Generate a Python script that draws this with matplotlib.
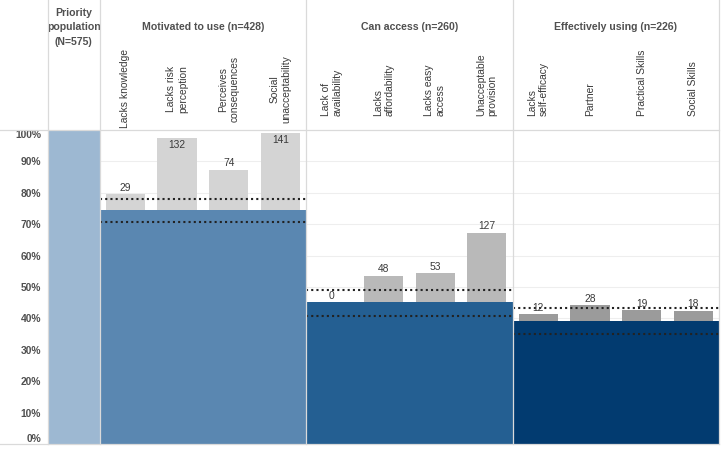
import matplotlib
matplotlib.use("Agg")
import matplotlib.pyplot as plt
from matplotlib.lines import Line2D

plt.rcParams["font.family"] = ["Liberation Sans", "DejaVu Sans"]

# data
total_label = "Priority\npopulation\n(N=575)"
total_n = 575
sections = ["Motivated to use (n=428)", "Can access (n=260)", "Effectively using (n=226)"]
section_n = [428, 260, 226]
barrier_labels = [
    "Lacks knowledge", "Lacks risk\nperception", "Perceives\nconsequences", "Social\nunacceptability",
    "Lack of\navailability", "Lacks\naffordability", "Lacks easy\naccess", "Unacceptable\nprovision",
    "Lacks\nself-efficacy", "Partner", "Practical Skills", "Social Skills",
]
barrier_counts = [29, 132, 74, 141, 0, 48, 53, 127, 12, 28, 19, 18]
band_low = [0.707, 0.409, 0.350]
band_high = [0.779, 0.490, 0.432]
y_ticks = [0.0, 0.1, 0.2, 0.3, 0.4, 0.5, 0.6, 0.7, 0.8, 0.9, 1.0]

# styling
W, H = 723, 449
blue_total = "#9db8d2"
blues = ["#5a87b1", "#245f92", "#023b70"]
greys = ["#d4d4d4", "#b9b9b9", "#9b9b9b"]
line_col = "#dadada"
text_col = "#505050"
label_col = "#3a3a3a"

fig = plt.figure(figsize=(W / 100, H / 100), dpi=100)
left, right, top, bottom = 48, 719, 130, 444
ax = fig.add_axes([left / W, (H - bottom) / H, (right - left) / W, (bottom - top) / H])
hx = fig.add_axes([left / W, (H - top) / H, (right - left) / W, top / H])

n_cols = 1 + len(barrier_labels)
ax.set_xlim(0, n_cols)
ax.set_ylim(0, 1)
hx.set_xlim(0, n_cols)
hx.set_ylim(top, 0)
hx.axis("off")

for s in ax.spines.values():
    s.set_visible(False)
ax.set_xticks([])
ax.set_yticks(y_ticks)
ax.set_yticklabels([f"{int(round(t * 100))}%" for t in y_ticks],
                   fontsize=7.4, fontweight="bold", color=text_col)
ax.tick_params(axis="y", length=0, pad=5)
tl = ax.get_yticklabels()
tl[0].set_va("bottom")
tl[-1].set_va("top")
for t in y_ticks[1:-1]:
    ax.axhline(t, color="#eeeeee", lw=0.8, zorder=0)

# priority population bar
ax.bar(0.5, 1.0, width=1.0, color=blue_total, zorder=2)

per_sec = len(barrier_labels) // len(sections)
for i, (n, sec) in enumerate(zip(section_n, sections)):
    x0 = 1 + i * per_sec
    share = n / total_n
    xs = [x0 + j + 0.5 for j in range(per_sec)]
    counts = barrier_counts[i * per_sec:(i + 1) * per_sec]
    tops = [(n + c) / total_n for c in counts]
    ax.bar(xs, tops, width=0.76, color=greys[i], zorder=1)
    ax.bar(x0 + per_sec / 2, share, width=per_sec, color=blues[i], zorder=2)
    for x, t, c in zip(xs, tops, counts):
        if t > 0.96:
            ax.annotate(str(c), (x, t), xytext=(0, -1), textcoords="offset points",
                        ha="center", va="top", fontsize=7.4, color=label_col, zorder=5)
        else:
            ax.annotate(str(c), (x, t), xytext=(0, 1), textcoords="offset points",
                        ha="center", va="bottom", fontsize=7.4, color=label_col, zorder=5)
    for yv in (band_low[i], band_high[i]):
        ax.hlines(yv, x0, x0 + per_sec, colors="#222222", lw=1.5,
                  linestyles=(0, (1, 1.5)), zorder=4)

    # header
    hx.text(x0 + per_sec / 2, 27, sec, ha="center", va="center",
            fontsize=7.6, fontweight="bold", color=text_col)
    for j, x in enumerate(xs):
        lab = barrier_labels[i * per_sec + j]
        if i == 0:
            hx.text(x, 89, lab, rotation=90, ha="center", va="center",
                    multialignment="center", fontsize=7.4, color=label_col)
        else:
            hx.text(x, 116, lab, rotation=90, ha="center", va="bottom",
                    multialignment="left", fontsize=7.4, color=label_col)

hx.text(0.5, 27.5, total_label, ha="center", va="center", fontsize=7.6,
        fontweight="bold", color=text_col, linespacing=1.55)

# separators
for xc in [0, 1, 1 + per_sec, 1 + 2 * per_sec, n_cols]:
    xp = left + xc * (right - left) / n_cols
    fig.add_artist(Line2D([xp / W, xp / W], [(H - bottom) / H, 1], color=line_col,
                          lw=0.9, zorder=10))
for yp in (top, bottom):
    fig.add_artist(Line2D([0, right / W], [(H - yp) / H, (H - yp) / H], color=line_col,
                          lw=0.9, zorder=10))

fig.savefig("out.png", dpi=100)
